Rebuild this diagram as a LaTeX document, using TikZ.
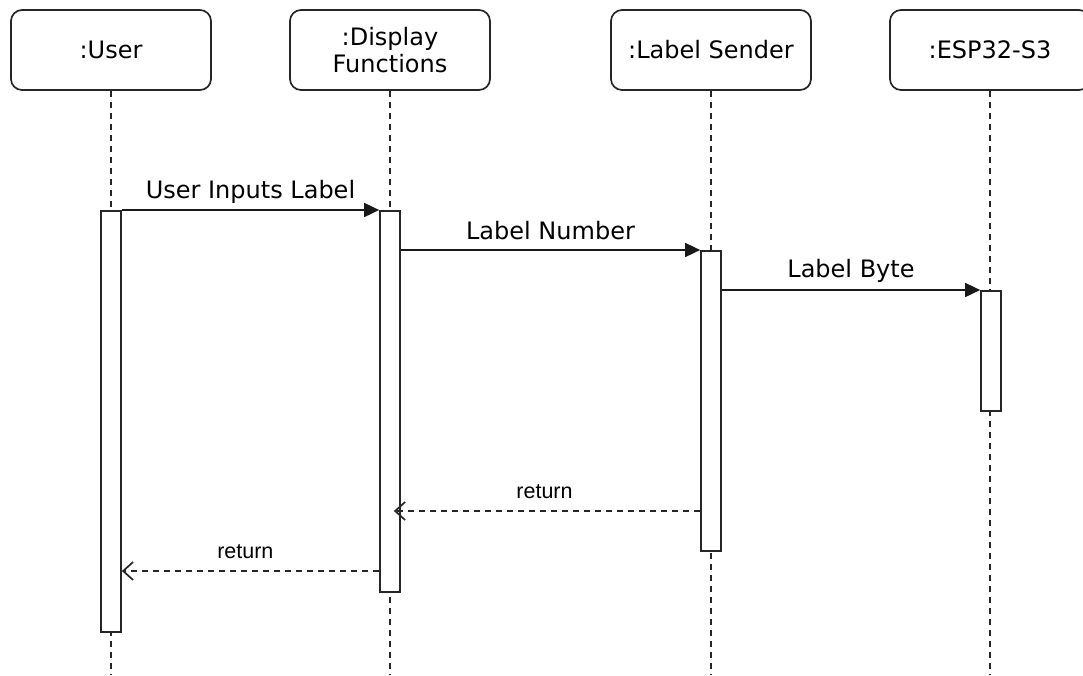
\documentclass[tikz,border=0pt]{standalone}
\usepackage{fontspec}
\setmainfont{DejaVu Sans}
\newfontfamily\retfont{Liberation Sans}
\usetikzlibrary{arrows.meta}

\tikzset{
  head/.style={draw=black!85, line width=1.7pt, rounded corners=11pt, fill=white,
    minimum width=200pt, minimum height=80pt, align=center, inner sep=0pt,
    font=\fontsize{24}{27}\selectfont},
  lifeline/.style={draw=black!85, line width=1.7pt, dash pattern=on 6pt off 5pt},
  actbar/.style={draw=black!85, line width=1.7pt, fill=white, minimum width=20pt,
    inner sep=0pt, anchor=north},
  msg/.style={draw=black!90, line width=1.7pt,
    -{Triangle[length=15pt,width=14pt]}},
  ret/.style={draw=black!85, line width=1.7pt, dash pattern=on 6pt off 5pt,
    -{Straight Barb[length=10pt,width=18pt,line width=1.7pt]}},
  msglabel/.style={font=\fontsize{24}{27}\selectfont, inner sep=0pt},
  retlabel/.style={font=\retfont\fontsize{21.5}{24}\selectfont, inner sep=0pt},
}

\begin{document}
\begin{tikzpicture}[x=1pt,y=-1pt]
\useasboundingbox (0,0) rectangle (1083,675);

% participants
\node[head] (u) at (111,50) {:User};
\node[head] (d) at (390,50) {:Display\\Functions};
\node[head] (s) at (711,50) {:Label Sender};
\node[head] (e) at (990,50) {:ESP32-S3};

% lifeline ends at the bottom edge
\coordinate (uend) at (111,675);
\coordinate (dend) at (390,675);
\coordinate (send) at (711,675);
\coordinate (eend) at (990,675);

\draw[lifeline] (u.south) -- (uend);
\draw[lifeline] (d.south) -- (dend);
\draw[lifeline] (s.south) -- (send);
\draw[lifeline] (e.south) -- (eend);

% activation bars
\node[actbar, minimum height=421pt] (ub) at (111,210) {};
\node[actbar, minimum height=381pt] (db) at (390,210) {};
\node[actbar, minimum height=300pt] (sb) at (711,250) {};
\node[actbar, minimum height=120pt] (eb) at (991,290) {};

% message rows
\coordinate (r1) at (0,511);
\coordinate (r2) at (0,571);

% calls
\draw[msg] (ub.north east) -- node[msglabel, midway, yshift=18pt] {User Inputs Label} (db.north west);
\draw[msg] (db.east |- sb.north) -- node[msglabel, midway, yshift=19pt] {Label Number} (sb.north west);
\draw[msg] (sb.east |- eb.north) -- node[msglabel, midway, yshift=19pt] {Label Byte} (eb.north west);

% returns
\draw[ret, shorten >=-7pt] (sb.west |- r1) -- node[retlabel, pos=0.52, yshift=19pt] {return} (db.east |- r1);
\draw[ret] (db.west |- r2) -- node[retlabel, pos=0.52, yshift=19pt] {return} (ub.east |- r2);
\end{tikzpicture}
\end{document}
